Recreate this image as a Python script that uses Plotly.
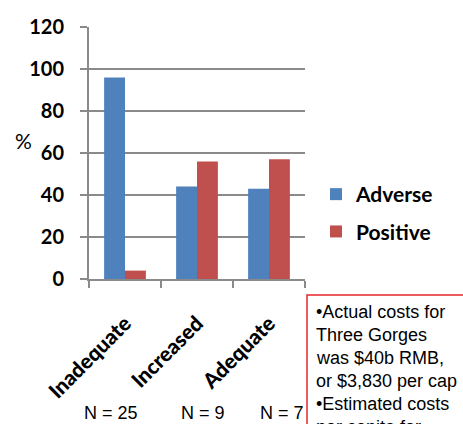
import plotly.graph_objects as go

# Survey outcome by funding level (percent of respondents)
categories = ["Inadequate", "Increased", "Adequate"]
adverse = [96, 44, 43]
positive = [4, 56, 57]
sample_sizes = ["N = 25", "N = 9", "N = 7"]
note_lines = [
    "•Actual costs for",
    "Three Gorges",
    "was $40b RMB,",
    "or $3,830 per cap",
    "•Estimated costs",
    "per capita for",
]

W, H = 463, 424
L, R, T, B = 89, 158, 27, 145
plot_w = W - L - R
plot_h = H - T - B


def px_x(x):
    return (x - L) / plot_w


def px_y(y):
    return (H - B - y) / plot_h


BLUE = "#4F81BD"
RED = "#C0504D"
GRID = "#8a8a8a"

fig = go.Figure()
fig.add_trace(go.Bar(name="Adverse", x=categories, y=adverse,
                     marker=dict(color=BLUE, line=dict(width=0)),
                     legendgroup="a"))
fig.add_trace(go.Bar(name="Positive", x=categories, y=positive,
                     marker=dict(color=RED, line=dict(width=0)),
                     legendgroup="p"))

fig.update_layout(
    width=W, height=H,
    margin=dict(l=L, r=R, t=T, b=B, pad=0),
    paper_bgcolor="white", plot_bgcolor="white",
    barmode="group", bargap=0.42, bargroupgap=0,
    showlegend=True,
    legend=dict(
        x=px_x(316), y=px_y(174), xanchor="left", yanchor="top",
        font=dict(family="Lato", size=21, color="black", weight="bold"),
        traceorder="grouped", tracegroupgap=7,
        itemwidth=30, bgcolor="rgba(0,0,0,0)",
    ),
)

fig.update_xaxes(
    type="category", tickson="boundaries",
    ticks="outside", ticklen=7, tickwidth=2, tickcolor=GRID,
    showline=True, linecolor=GRID, linewidth=2,
    showgrid=False,
    tickangle=-45,
    ticklabelstandoff=22,
    tickfont=dict(family="Lato", size=21, color="black", weight=900),
)
fig.update_yaxes(
    range=[0, 120], dtick=20,
    ticks="outside", ticklen=7, tickwidth=2, tickcolor=GRID,
    showline=True, linecolor=GRID, linewidth=2,
    showgrid=True, gridcolor=GRID, gridwidth=2,
    zeroline=False,
    ticklabelstandoff=12,
    tickfont=dict(family="Lato", size=20, color="black", weight="bold"),
)

# axis caption
fig.add_annotation(text="%", xref="paper", yref="paper",
                   x=px_x(23), y=px_y(140), xanchor="center", yanchor="middle",
                   showarrow=False,
                   font=dict(family="Lato", size=21, color="black"))

# sample sizes under each group
n_centers = [111, 203, 282]
for label, cx in zip(sample_sizes, n_centers):
    fig.add_annotation(text=label, xref="paper", yref="paper",
                       x=px_x(cx), y=px_y(413), xanchor="center", yanchor="middle",
                       showarrow=False,
                       font=dict(family="Liberation Sans", size=18, color="black"))

# note box
fig.add_shape(type="rect", xref="paper", yref="paper",
              x0=px_x(307), x1=px_x(470), y0=px_y(295), y1=px_y(440),
              line=dict(color="#e8262a", width=1.5), fillcolor="white",
              layer="above")
line_centers = [312, 335, 358, 381, 404, 427]
for txt, cy in zip(note_lines, line_centers):
    fig.add_annotation(text=txt, xref="paper", yref="paper",
                       x=px_x(314), y=px_y(cy), xanchor="left", yanchor="middle",
                       showarrow=False,
                       font=dict(family="Liberation Sans", size=18, color="black"))

fig.write_html("out.html")
